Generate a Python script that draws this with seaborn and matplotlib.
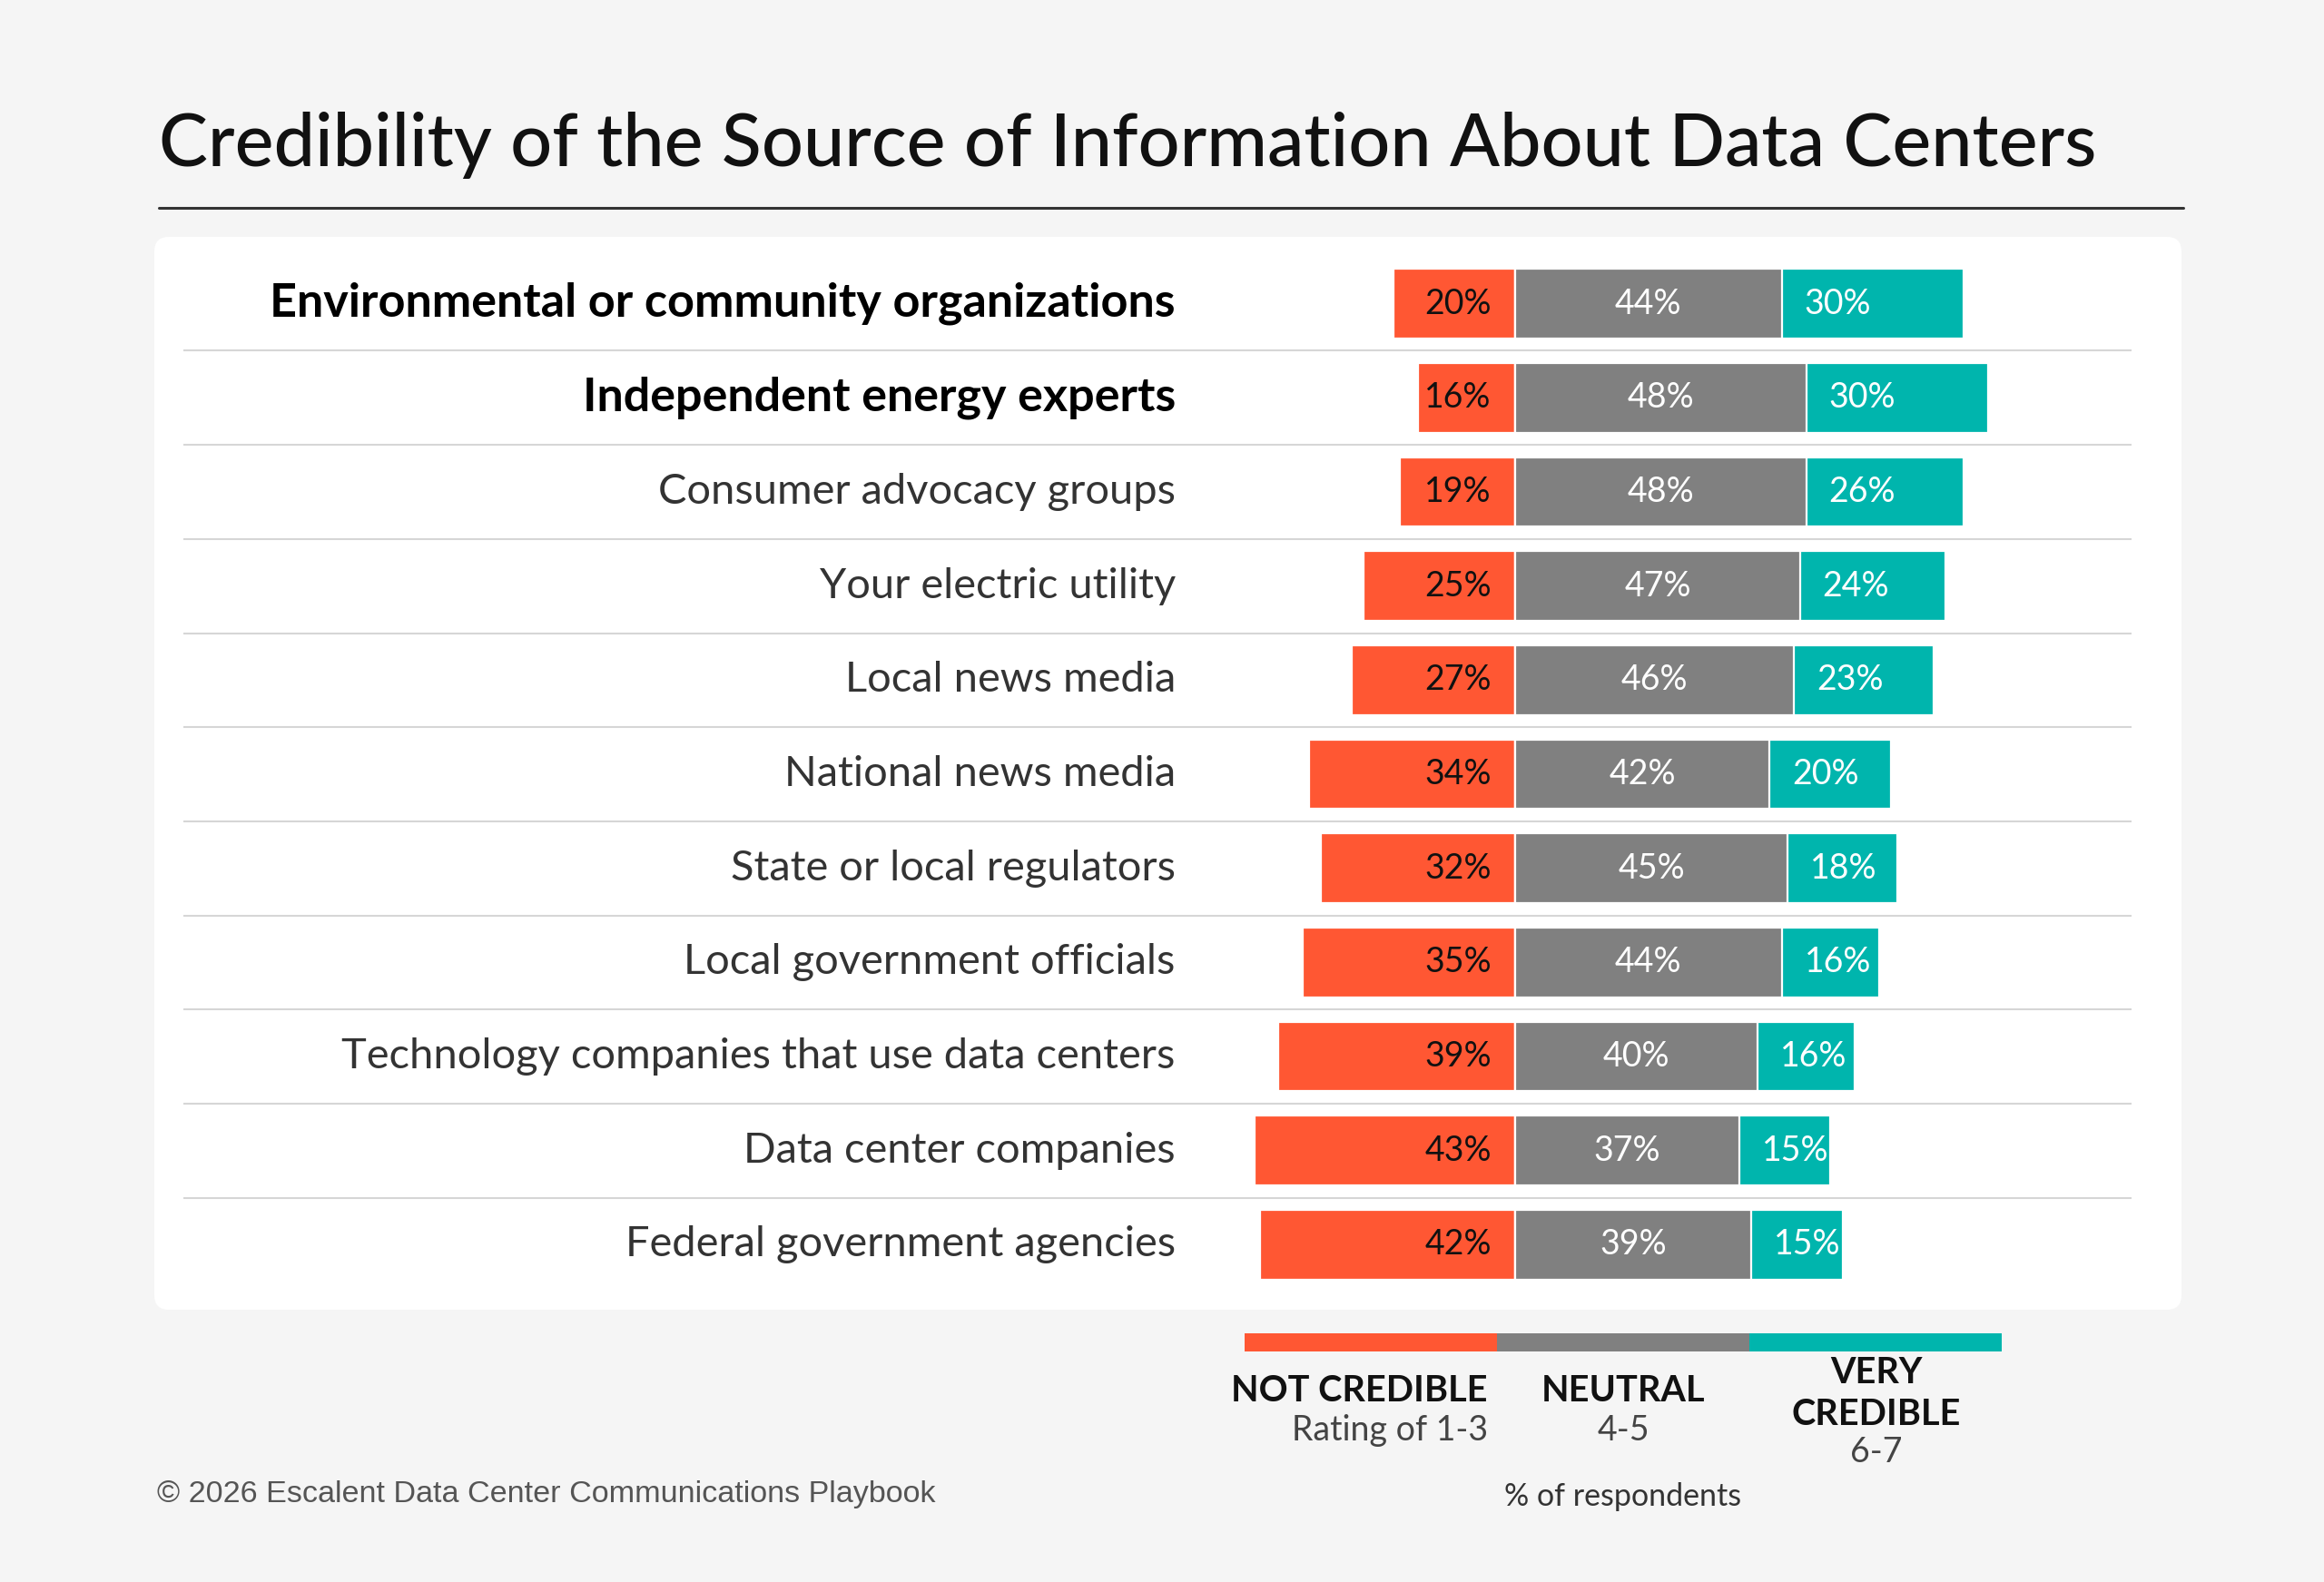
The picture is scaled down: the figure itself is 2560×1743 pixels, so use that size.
import pandas as pd
import matplotlib
matplotlib.use("Agg")
import matplotlib.pyplot as plt
import seaborn as sns
from matplotlib.patches import FancyBboxPatch, Rectangle

# Data
sources = [
    "Environmental or community organizations",
    "Independent energy experts",
    "Consumer advocacy groups",
    "Your electric utility",
    "Local news media",
    "National news media",
    "State or local regulators",
    "Local government officials",
    "Technology companies that use data centers",
    "Data center companies",
    "Federal government agencies",
]
not_credible = [20, 16, 19, 25, 27, 34, 32, 35, 39, 43, 42]
neutral = [44, 48, 48, 47, 46, 42, 45, 44, 40, 37, 39]
very_credible = [30, 30, 26, 24, 23, 20, 18, 16, 16, 15, 15]
bold_rows = ["Environmental or community organizations", "Independent energy experts"]

legend_titles = ["NOT CREDIBLE", "NEUTRAL", "VERY", "CREDIBLE"]
legend_subs = ["Rating of 1-3", "4-5", "6-7"]

RED = "#FF5733"
GREY = "#808080"
TEAL = "#00B5AD"
BG = "#F5F5F5"

W, H = 2560, 1743
FONT = "Lato"


def fx(px):
    return px / W


def fy(py):
    return 1 - py / H


df = pd.DataFrame({
    "source": sources,
    "not": not_credible,
    "neutral": neutral,
    "very": very_credible,
})
df["neg"] = -df["not"]
df["right_total"] = df["neutral"] + df["very"]

sns.set_style("white")
plt.rcParams["font.family"] = [FONT, "DejaVu Sans"]

fig = plt.figure(figsize=(W / 100, H / 100), dpi=100, facecolor=BG)

# white rounded panel behind the bars
panel = FancyBboxPatch((1.70, 3.00), 24.03 - 1.70, 14.82 - 3.00,
                       boxstyle="round,pad=0,rounding_size=0.16",
                       transform=fig.dpi_scale_trans, facecolor="white",
                       edgecolor="none", zorder=-10)
fig.patches.append(panel)

ax = fig.add_axes([fx(170), fy(1443), fx(2403 - 170), (1443 - 261) / H])
ax.set_facecolor("none")
ax.set_zorder(1)

bar_kw = dict(orient="h", errorbar=None, width=0.74, edgecolor="white",
              linewidth=1.6, ax=ax)
sns.barplot(data=df, x="neg", y="source", color=RED, saturation=1, **bar_kw)
sns.barplot(data=df, x="right_total", y="source", color=TEAL, saturation=1, **bar_kw)
sns.barplot(data=df, x="neutral", y="source", color=GREY, saturation=1, **bar_kw)

ax.set_xlim(-224.4, 109.9)
ax.set_ylim(10.69, -0.71)
ax.set_xlabel("")
ax.set_ylabel("")
ax.set_xticks([])
ax.set_yticks([])
sns.despine(ax=ax, left=True, bottom=True)

# row separators
for i in range(len(sources) - 1):
    ax.plot([-219.6, 101.6], [i + 0.5, i + 0.5], color="#D6D6D6", lw=1.5,
            solid_capstyle="butt", zorder=1)

# row labels and value labels
for i, row in df.iterrows():
    is_bold = row["source"] in bold_rows
    ax.text(-56.0, i, row["source"], ha="right", va="center",
            fontsize=37.5 if is_bold else 33.8,
            fontweight="bold" if is_bold else "normal",
            color="#000000" if is_bold else "#333333")
    ax.text(-3.9, i, f"{row['not']}%", ha="right", va="center",
            fontsize=27, color="#111111")
    ax.text(row["neutral"] / 2, i, f"{row['neutral']}%", ha="center",
            va="center", fontsize=27, color="white")
    ax.text(row["neutral"] + 3.7, i, f"{row['very']}%", ha="left",
            va="center", fontsize=27, color="white")

# title and rule
fig.text(fx(175), fy(160), "Credibility of the Source of Information About Data Centers",
         ha="left", va="center", fontsize=58.2, fontweight="medium", color="#111111")
fig.add_artist(plt.Line2D([fx(175), fx(2405)], [fy(229), fy(229)],
                          color="#333333", lw=2.2))

# colour key under the chart
seg_x = [1371, 1649, 1927]
seg_w = 278
for x0, c in zip(seg_x, [RED, GREY, TEAL]):
    fig.patches.append(Rectangle((fx(x0), fy(1489)), fx(seg_w), 20 / H,
                                 transform=fig.transFigure, facecolor=c,
                                 edgecolor="none"))

key_kw = dict(va="center", fontsize=28.5, fontweight="bold", color="#111111")
sub_kw = dict(va="center", fontsize=27, color="#444444")
fig.text(fx(1639), fy(1533), legend_titles[0], ha="right", **key_kw)
fig.text(fx(1639), fy(1576), legend_subs[0], ha="right", **sub_kw)
fig.text(fx(1788), fy(1533), legend_titles[1], ha="center", **key_kw)
fig.text(fx(1788), fy(1576), legend_subs[1], ha="center", **sub_kw)
fig.text(fx(2067), fy(1512), legend_titles[2], ha="center", **key_kw)
fig.text(fx(2067), fy(1558), legend_titles[3], ha="center", **key_kw)
fig.text(fx(2067), fy(1600), legend_subs[2], ha="center", **sub_kw)
fig.text(fx(1788), fy(1649), "% of respondents", ha="center", va="center",
         fontsize=24.5, color="#333333")

fig.text(fx(173), fy(1646), "© 2026 Escalent Data Center Communications Playbook",
         ha="left", va="center", fontsize=24.6, color="#555555",
         family=["Liberation Sans", "DejaVu Sans"])

fig.savefig("out.png", dpi=100, facecolor=BG)
